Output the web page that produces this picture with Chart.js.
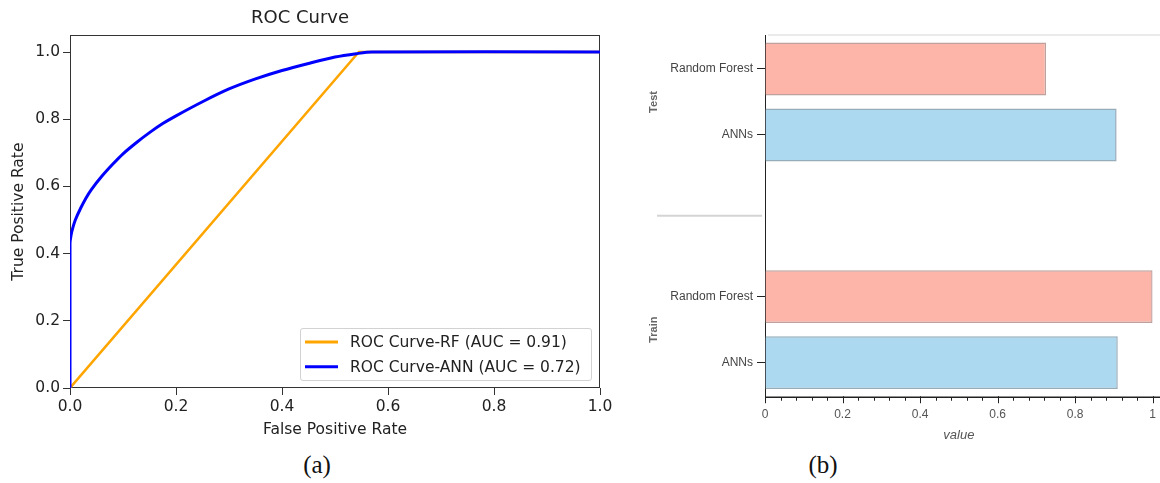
<!DOCTYPE html>
<html><head><meta charset="utf-8">
<script src="https://cdn.jsdelivr.net/npm/chart.js@4.4.1/dist/chart.umd.min.js"></script>
<style>
body{margin:0;background:#fff;width:1160px;height:483px;position:relative;overflow:hidden}
#ca{position:absolute;left:0;top:0}
#cb{position:absolute;left:640px;top:0}
.cap{position:absolute;top:450px;font-family:"Liberation Serif","Times New Roman",serif;font-size:25px;color:#111;line-height:30px;transform:translateX(-50%);white-space:nowrap}
#legend{position:absolute;left:300px;top:328px;width:292px;height:53px;border:1px solid #d2d2d2;border-radius:3px;background:rgba(255,255,255,0.85);font-family:"DejaVu Sans";font-size:15.5px;color:#222;box-sizing:border-box}
.row{position:absolute;left:0;height:20px;width:100%}
.sw{position:absolute;left:4px;width:33px;top:50%;transform:translateY(-50%)}
.lt{position:absolute;left:49px;line-height:20px;white-space:nowrap}
</style></head>
<body>
<canvas id="ca" width="670" height="445"></canvas>
<canvas id="cb" width="520" height="445"></canvas>
<div id="legend"></div>
<div class="cap" style="left:317px">(a)</div>
<div class="cap" style="left:823px">(b)</div>
<script>
// ---------- Panel (a): ROC curves ----------
const rfLabel = 'ROC Curve-RF (AUC = 0.91)';
const annLabel = 'ROC Curve-ANN (AUC = 0.72)';
const rfFpr = [0, 0.545, 1.0];
const rfTpr = [0, 1.0, 1.0];
const annFpr = [0, 0, 0.002, 0.005, 0.01, 0.02, 0.03, 0.04, 0.06, 0.08, 0.1, 0.125, 0.15, 0.175, 0.2, 0.25, 0.3, 0.35, 0.4, 0.45, 0.5, 0.54, 0.57, 1.0];
const annTpr = [0, 0.43, 0.455, 0.475, 0.50, 0.535, 0.565, 0.59, 0.63, 0.665, 0.697, 0.73, 0.76, 0.787, 0.81, 0.852, 0.89, 0.92, 0.945, 0.966, 0.985, 0.995, 1.0, 1.0];
const rocTicks = [0, 0.2, 0.4, 0.6, 0.8, 1.0];

// ---------- Panel (b): scores ----------
const groups = ['Test', 'Train'];
const models = ['Random Forest', 'ANNs'];
const testScores = [0.725, 0.907];
const trainScores = [1.0, 0.91];
const valueTicks = [0, 0.2, 0.4, 0.6, 0.8, 1];

Chart.defaults.font.family = "'DejaVu Sans'";
Chart.defaults.animation = false;

const rocFont = {family: "'DejaVu Sans'", size: 15.5};
const pts = (xs, ys) => xs.map((x, i) => ({x: x, y: ys[i]}));

const frame = {
  id: 'frame',
  beforeDatasetsDraw(chart) {
    const a = chart.chartArea, c = chart.ctx;
    c.save(); c.strokeStyle = '#333'; c.lineWidth = 1;
    c.strokeRect(Math.round(a.left) + 0.5, Math.round(a.top) + 0.5, Math.round(a.right - a.left) - 1, Math.round(a.bottom - a.top) - 1);
    c.restore();
  }
};

const rocDatasets = [
  {label: rfLabel, data: pts(rfFpr, rfTpr), borderColor: '#FFA500', borderWidth: 2.5, tension: 0, pointRadius: 0, order: 1},
  {label: annLabel, data: pts(annFpr, annTpr), borderColor: '#0000FF', borderWidth: 3, tension: 0.3, pointRadius: 0, order: 0}
];

new Chart(document.getElementById('ca'), {
  type: 'line',
  data: {datasets: rocDatasets},
  options: {
    responsive: false, devicePixelRatio: 1,
    layout: {padding: {left: 0, right: 70, top: 0, bottom: 0}},
    plugins: {
      legend: {display: false}, tooltip: {enabled: false},
      title: {display: true, text: 'ROC Curve', color: '#222', font: {family: "'DejaVu Sans'", size: 18, weight: 'normal'}, padding: {top: 8, bottom: 5.6}}
    },
    scales: {
      x: {
        type: 'linear', min: 0, max: 1,
        afterBuildTicks: s => { s.ticks = rocTicks.map(v => ({value: v})); },
        afterFit: s => { s.height = 57; },
        ticks: {color: '#222', font: rocFont, padding: 3, maxRotation: 0, autoSkip: false, callback: v => v.toFixed(1)},
        grid: {drawOnChartArea: false, drawTicks: true, tickLength: 7, color: '#333'},
        border: {display: false},
        title: {display: true, text: 'False Positive Rate', color: '#222', font: rocFont, padding: {top: 0, bottom: 5.7}}
      },
      y: {
        type: 'linear', min: 0, max: 1.05,
        afterBuildTicks: s => { s.ticks = rocTicks.map(v => ({value: v})); },
        afterFit: s => { s.width = 70; },
        ticks: {color: '#222', font: rocFont, padding: 3, autoSkip: false, callback: v => v.toFixed(1)},
        grid: {drawOnChartArea: false, drawTicks: true, tickLength: 7, color: '#333'},
        border: {display: false},
        title: {display: true, text: 'True Positive Rate', color: '#222', font: rocFont, padding: {top: 9.2, bottom: 0}}
      }
    }
  },
  plugins: [frame]
});

// HTML legend built from the datasets
const lg = document.getElementById('legend');
[rocDatasets[0], rocDatasets[1]].forEach((d, i) => {
  const r = document.createElement('div');
  r.className = 'row'; r.style.top = (2.7 + i * 25) + 'px';
  const s = document.createElement('div');
  s.className = 'sw'; s.style.height = (i === 0 ? 3 : 3.5) + 'px'; s.style.background = d.borderColor;
  const t = document.createElement('div');
  t.className = 'lt'; t.textContent = d.label;
  r.appendChild(s); r.appendChild(t); lg.appendChild(r);
});

// ---------- Panel (b) chart ----------
const groupGap = 1.45;
const slot = (g, m) => g * (models.length + groupGap) + m;
const scoreSets = [testScores, trainScores];
const barPoints = [], barFill = [], barEdge = [], slotLabels = {};
const fills = ['rgb(253,181,169)', 'rgb(172,217,239)'];
const edges = ['rgb(190,160,156)', 'rgb(150,172,184)'];
groups.forEach((g, gi) => models.forEach((m, mi) => {
  const p = slot(gi, mi);
  barPoints.push({x: scoreSets[gi][mi], y: p});
  barFill.push(fills[mi]); barEdge.push(edges[mi]);
  slotLabels[p.toFixed(3)] = m;
}));
const slots = barPoints.map(p => p.y);

const decor = {
  id: 'decor',
  afterDraw(chart) {
    const c = chart.ctx, a = chart.chartArea, xs = chart.scales.x, ys = chart.scales.y;
    c.save();
    // top faint line
    c.strokeStyle = '#ebebeb'; c.lineWidth = 2;
    c.beginPath(); c.moveTo(a.left + 3, a.top); c.lineTo(chart.width, a.top); c.stroke();
    // bottom axis line
    c.strokeStyle = '#222'; c.lineWidth = 1.5;
    const yb = Math.round(a.bottom) + 0.25;
    c.beginPath(); c.moveTo(a.left, yb); c.lineTo(chart.width, yb); c.stroke();
    // major and minor ticks
    c.lineWidth = 1;
    for (let i = 0; i < valueTicks.length; i++) {
      const px = Math.round(xs.getPixelForValue(valueTicks[i])) + 0.5;
      c.beginPath(); c.moveTo(px, yb - 1); c.lineTo(px, yb + 6); c.stroke();
      if (i < valueTicks.length - 1) {
        for (let k = 1; k < 5; k++) {
          const v = valueTicks[i] + (valueTicks[i + 1] - valueTicks[i]) * k / 5;
          const q = Math.round(xs.getPixelForValue(v)) + 0.5;
          c.beginPath(); c.moveTo(q, yb); c.lineTo(q, yb + 3.5); c.stroke();
        }
      }
    }
    // group divider
    const lastOf0 = slot(0, models.length - 1), firstOf1 = slot(1, 0);
    const yd = ys.getPixelForValue((lastOf0 + firstOf1) / 2);
    c.strokeStyle = '#d4d4d4'; c.lineWidth = 2;
    c.beginPath(); c.moveTo(17, yd); c.lineTo(122, yd); c.stroke();
    // group labels
    c.fillStyle = '#666'; c.font = "bold 11px 'Liberation Sans'";
    c.textAlign = 'center'; c.textBaseline = 'middle';
    groups.forEach((g, gi) => {
      const yc = ys.getPixelForValue((slot(gi, 0) + slot(gi, models.length - 1)) / 2);
      c.save(); c.translate(14, yc); c.rotate(-Math.PI / 2); c.fillText(g, 0, 0); c.restore();
    });
    c.restore();
  }
};

new Chart(document.getElementById('cb'), {
  type: 'bar',
  data: {datasets: [{label: 'value', data: barPoints, backgroundColor: barFill, borderColor: barEdge, borderWidth: 1.5, barPercentage: 0.8, categoryPercentage: 1.0}]},
  options: {
    indexAxis: 'y',
    responsive: false, devicePixelRatio: 1,
    layout: {padding: {left: 0, right: 6, top: 35, bottom: 0}},
    plugins: {legend: {display: false}, tooltip: {enabled: false}},
    scales: {
      x: {
        type: 'linear', min: 0, max: 1, position: 'bottom',
        afterBuildTicks: s => { s.ticks = valueTicks.map(v => ({value: v})); },
        afterFit: s => { s.height = 48; },
        ticks: {color: '#555', font: {family: "'Liberation Sans'", size: 12}, padding: 4, maxRotation: 0, autoSkip: false, callback: v => String(v)},
        grid: {drawOnChartArea: false, drawTicks: true, tickLength: 6, color: 'rgba(0,0,0,0)'},
        border: {display: false},
        title: {display: true, text: 'value', color: '#555', font: {family: "'Liberation Sans'", size: 13, style: 'italic'}, padding: {top: 0, bottom: 2.2}}
      },
      y: {
        type: 'linear', reverse: true, offset: false, min: -0.515, max: slot(1, 1) + 0.52,
        afterBuildTicks: s => { s.ticks = slots.map(v => ({value: v})); },
        afterFit: s => { s.width = 125; },
        ticks: {color: '#444', font: {family: "'Liberation Sans'", size: 12}, padding: 4, autoSkip: false, callback: v => slotLabels[Number(v).toFixed(3)] || ''},
        grid: {offset: false, drawOnChartArea: false, drawTicks: true, tickLength: 8, color: '#222'},
        border: {display: true, color: '#222', width: 1}
      }
    }
  },
  plugins: [decor]
});
</script>
</body></html>
